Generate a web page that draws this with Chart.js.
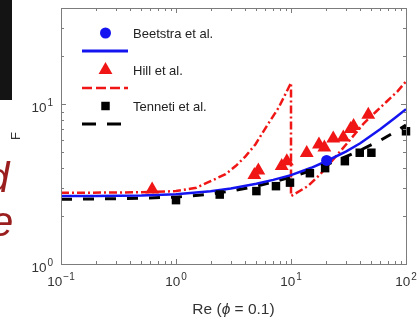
<!DOCTYPE html>
<html lang="en">
<head>
<meta charset="UTF-8">
<title>F vs Re</title>
<script src="https://cdn.jsdelivr.net/npm/chart.js@4.4.0/dist/chart.umd.min.js"></script>
<style>
    body { margin: 0; background: #fff; overflow: hidden; }
    .wrap { position: relative; width: 418px; height: 320px; }
    #cv { position: absolute; left: 0; top: 0; }
    .slideBox { position: absolute; left: 0; top: 0; width: 12px; height: 100px; background: #141414; }
    .slideText { position: absolute; font-family: "Liberation Sans", Arial, sans-serif; font-style: italic;
                 color: #9a1e1e; font-size: 42px; line-height: 1; }
</style>
</head>
<body>
<div class="wrap">
    <canvas id="cv" width="418" height="320"></canvas>
    <div class="slideBox"></div>
    <div class="slideText" style="left:-14px; top:157px">d</div>
    <div class="slideText" style="left:-10px; top:201px">e</div>
</div>

<script>
// data (Re, F)
const beetstraRe = [20.4];
const beetstraF = [4.45];
const beetstraCurveRe = [0.1, 0.2, 0.5, 1, 2, 3, 5, 7, 10, 15, 20, 30, 40, 60, 80, 100];
const beetstraCurveF = [2.66, 2.66, 2.68, 2.73, 2.85, 2.97, 3.18, 3.36, 3.6, 4.0, 4.38, 5.05, 5.7, 7.0, 8.2, 9.3];

const hillRe = [0.62, 4.8, 5.2, 8.3, 9.2, 13.7, 17.5, 19.5, 23.3, 28.5, 33, 35, 47];
const hillF = [2.93, 3.6, 3.85, 4.1, 4.4, 4.95, 5.6, 5.35, 6.1, 6.2, 7.0, 7.3, 8.6];
const hillCurveRe = [0.1, 0.3, 0.6, 1, 1.5, 2, 2.7, 3.3, 4, 4.9, 6.3, 7.8, 10, 10, 14, 18, 22, 27, 34, 43, 55, 68, 84, 100];
const hillCurveF = [2.79, 2.8, 2.82, 2.86, 3.0, 3.3, 3.65, 4.1, 4.7, 5.6, 7.5, 9.5, 13.6, 2.66, 3.07, 3.65, 4.3, 5.1, 6.2, 7.6, 9.0, 10.4, 12.0, 13.9];

const tennetiRe = [1.0, 2.4, 5.0, 7.4, 9.8, 14.6, 19.8, 29.4, 39.6, 50, 100];
const tennetiF = [2.51, 2.72, 2.86, 3.07, 3.23, 3.7, 3.98, 4.4, 4.97, 4.97, 6.77];
const tennetiCurveRe = [0.1, 0.3, 1, 2, 3, 5, 7, 10, 15, 20, 30, 40, 60, 80, 100];
const tennetiCurveF = [2.54, 2.56, 2.62, 2.74, 2.86, 3.07, 3.26, 3.5, 3.85, 4.15, 4.7, 5.15, 5.95, 6.7, 7.4];

const xTicks = [0.1, 1, 10, 100];
const yTicks = [1, 10];
const legendNames = ['Beetstra et al.', 'Hill et al.', 'Tenneti et al.'];

const BLUE = '#1414f0', RED = '#f01616', BLACK = '#000000';
const FONT = '"Liberation Sans", Arial, sans-serif';

function pts(xs, ys) {
    return xs.map((v, i) => ({ x: v, y: ys[i] }));
}

// box, inward ticks, labels and legend drawn like the original figure
const frame = {
    id: 'frame',
    afterDraw(chart) {
        const { ctx, chartArea: a, scales: { x, y } } = chart;
        ctx.save();
        ctx.strokeStyle = '#7c7c7c';
        ctx.lineWidth = 1;
        ctx.setLineDash([]);
        ctx.strokeRect(a.left + 0.5, a.top + 0.5, a.right - a.left, a.bottom - a.top);

        // x ticks
        for (let d = -1; d <= 1; d++) {
            for (let m = 1; m <= 9; m++) {
                const px = Math.round(x.getPixelForValue(m * Math.pow(10, d))) + 0.5;
                const len = m === 1 ? 5 : 3;
                ctx.beginPath();
                ctx.moveTo(px, a.bottom); ctx.lineTo(px, a.bottom - len);
                ctx.moveTo(px, a.top); ctx.lineTo(px, a.top + len);
                ctx.stroke();
            }
        }
        // y ticks
        for (let d = 0; d <= 1; d++) {
            for (let m = 1; m <= 9; m++) {
                const v = m * Math.pow(10, d);
                if (v > y.max) break;
                const py = Math.round(y.getPixelForValue(v)) + 0.5;
                const len = m === 1 ? 5 : 3;
                ctx.beginPath();
                ctx.moveTo(a.left, py); ctx.lineTo(a.left + len, py);
                ctx.moveTo(a.right, py); ctx.lineTo(a.right - len, py);
                ctx.stroke();
            }
        }

        // tick labels as 10 with raised exponent
        ctx.fillStyle = '#333';
        ctx.textBaseline = 'alphabetic';
        const pow = (v, px, py, align) => {
            const e = String(Math.round(Math.log10(v))).replace('-', '\u2212');
            ctx.font = '13.5px ' + FONT;
            const wb = ctx.measureText('10').width;
            ctx.font = '10px ' + FONT;
            const we = ctx.measureText(e).width;
            const left = align === 'center' ? px - (wb + we + 1) / 2 : px - (wb + we + 1);
            ctx.textAlign = 'left';
            ctx.font = '13.5px ' + FONT;
            ctx.fillText('10', left, py);
            ctx.font = '10px ' + FONT;
            ctx.fillText(e, left + wb + 1, py - 6);
        };
        xTicks.forEach(v => pow(v, x.getPixelForValue(v), 286, 'center'));
        yTicks.forEach(v => pow(v, 53, y.getPixelForValue(v) + 8, 'right'));

        // x title
        const tf = '15.5px ' + FONT;
        ctx.font = tf;
        const p1 = 'Re (', p3 = ' = 0.1)';
        const w1 = ctx.measureText(p1).width, w3 = ctx.measureText(p3).width;
        ctx.font = 'italic ' + tf;
        const w2 = ctx.measureText('\u03d5').width;
        const tx = (a.left + a.right) / 2 - (w1 + w2 + w3) / 2;
        ctx.font = tf;
        ctx.fillText(p1, tx, 314);
        ctx.font = 'italic ' + tf;
        ctx.fillText('\u03d5', tx + w1, 314);
        ctx.font = tf;
        ctx.fillText(p3, tx + w1 + w2, 314);

        // y title
        ctx.save();
        ctx.translate(20, (a.top + a.bottom) / 2);
        ctx.rotate(-Math.PI / 2);
        ctx.textAlign = 'center';
        ctx.font = '13px ' + FONT;
        ctx.fillText('F', 0, 0);
        ctx.restore();

        // legend
        const rows = [
            { marker: 'circle', r: 5.5, color: BLUE, dash: [], lw: 3, ty: 38 },
            { marker: 'triangle', r: 8, color: RED, dash: [10, 4], lw: 2.5, ty: 75 },
            { marker: 'rect', r: 6, color: BLACK, dash: [14, 11], lw: 3, ty: 111 }
        ];
        rows.forEach((r, i) => {
            const my = r.ty - 5;
            ctx.fillStyle = r.color;
            ctx.strokeStyle = r.color;
            Chart.helpers.drawPoint(ctx, { pointStyle: r.marker, radius: r.r, borderWidth: 0 }, 105.5, my);
            ctx.lineWidth = r.lw;
            ctx.setLineDash(r.dash);
            ctx.beginPath();
            ctx.moveTo(82, my + 18); ctx.lineTo(128, my + 18);
            ctx.stroke();
            ctx.setLineDash([]);
            ctx.fillStyle = '#222';
            ctx.font = '13px ' + FONT;
            ctx.textAlign = 'left';
            ctx.fillText(legendNames[i], 133, r.ty);
        });
        ctx.restore();
    }
};

const lineDefaults = { showLine: true, pointRadius: 0, tension: 0, fill: false };

new Chart(document.getElementById('cv'), {
    type: 'scatter',
    data: {
        datasets: [
            { data: pts(beetstraRe, beetstraF), backgroundColor: BLUE, borderColor: BLUE,
              pointStyle: 'circle', pointRadius: 5.5, borderWidth: 0, order: 0, clip: false },
            { data: pts(hillRe, hillF), backgroundColor: RED, borderColor: RED,
              pointStyle: 'triangle', pointRadius: 8, borderWidth: 0, order: 1, clip: false },
            { data: pts(tennetiRe, tennetiF), backgroundColor: BLACK, borderColor: BLACK,
              pointStyle: 'rect', pointRadius: 6, borderWidth: 0, order: 2, clip: false },
            Object.assign({ data: pts(beetstraCurveRe, beetstraCurveF), borderColor: BLUE,
              borderWidth: 2.5, order: 3 }, lineDefaults),
            Object.assign({ data: pts(hillCurveRe, hillCurveF), borderColor: RED,
              borderWidth: 2.5, borderDash: [8, 3, 2, 3], order: 4 }, lineDefaults),
            Object.assign({ data: pts(tennetiCurveRe, tennetiCurveF), borderColor: BLACK,
              borderWidth: 3, borderDash: [11, 11], order: 5 }, lineDefaults)
        ]
    },
    options: {
        responsive: false,
        animation: false,
        layout: { padding: { left: 61, right: 12, top: 6, bottom: 56 } },
        plugins: { legend: { display: false }, tooltip: { enabled: false } },
        scales: {
            x: { type: 'logarithmic', min: 0.1, max: 100, display: false },
            y: { type: 'logarithmic', min: 1, max: 40, display: false }
        }
    },
    plugins: [frame]
});
</script>
</body>
</html>
